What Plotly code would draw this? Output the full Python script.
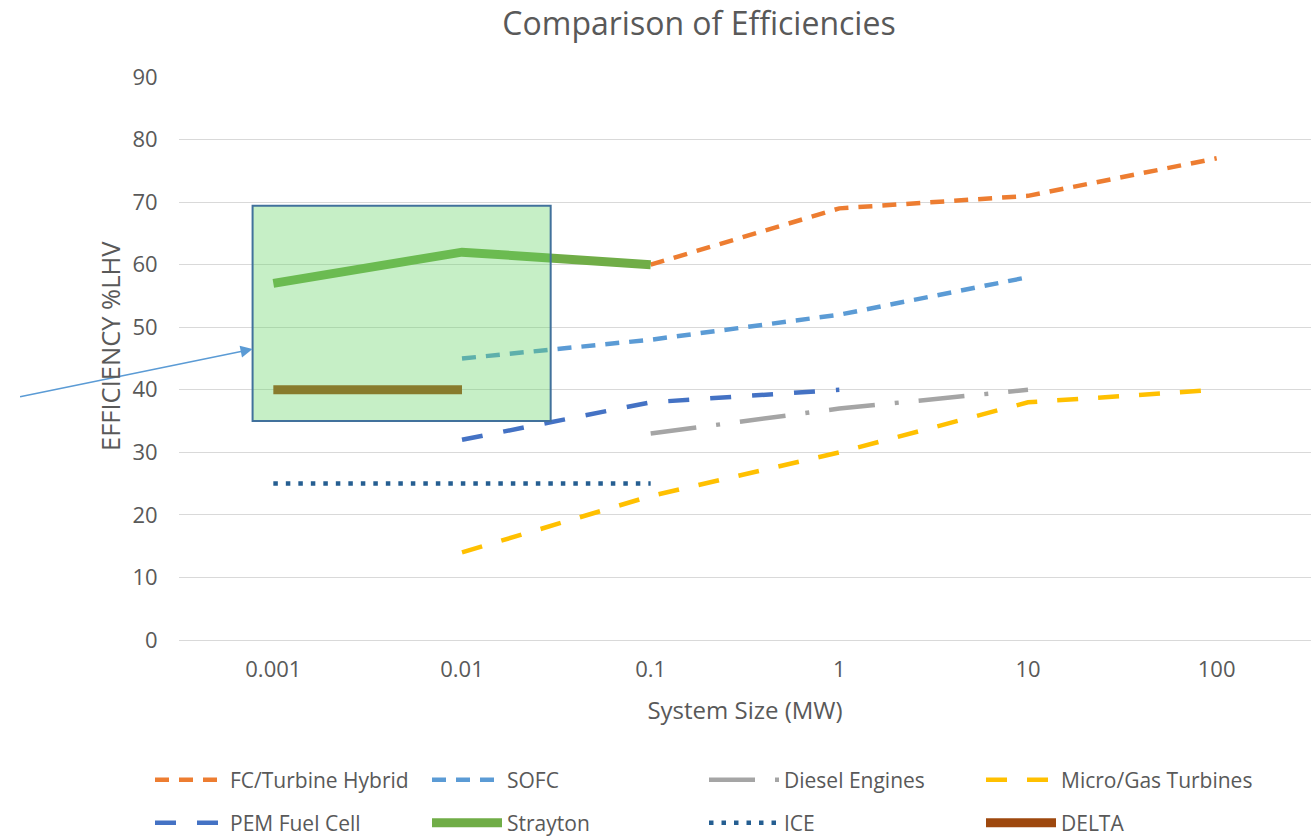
import plotly.graph_objects as go

# ---------------- data ----------------
sizes = ["0.001", "0.01", "0.1", "1", "10", "100"]

fc_x = ["0.1", "1", "10", "100"]
fc_y = [60, 69, 71, 77]

sofc_x = ["0.01", "0.1", "1", "10"]
sofc_y = [45, 48, 52, 58]

diesel_x = ["0.1", "1", "10"]
diesel_y = [33, 37, 40]

mgt_x = ["0.01", "0.1", "1", "10", "100"]
mgt_y = [14, 23, 30, 38, 40]

pem_x = ["0.01", "0.1", "1"]
pem_y = [32, 38, 40]

strayton_x = ["0.001", "0.01", "0.1"]
strayton_y = [57, 62, 60]

ice_x = ["0.001", "0.01", "0.1"]
ice_y = [25, 25, 25]

delta_x = ["0.001", "0.01"]
delta_y = [40, 40]

# highlighted region (x in category index units, y in %LHV)
box_x = [-0.11, 1.47]
box_y = [35, 69.4]

FONT = "Open Sans"
TXT = "#595959"

fig = go.Figure()

def add(name, x, y, color, width, dash, legend):
    fig.add_trace(go.Scatter(
        x=x, y=y, name=name, mode="lines",
        line=dict(color=color, width=width, dash=dash),
        legend=legend, hoverinfo="x+y+name",
    ))

add("FC/Turbine Hybrid", fc_x, fc_y, "#ED7D31", 4.5, "14px,10px", "legend")
add("SOFC", sofc_x, sofc_y, "#5B9BD5", 4.5, "14px,10px", "legend")
add("Diesel Engines", diesel_x, diesel_y, "#A5A5A5", 4.5, "46px,20px,4px,20px", "legend")
add("Micro/Gas Turbines", mgt_x, mgt_y, "#FFC000", 4.5, "21px,20px", "legend")
add("PEM Fuel Cell", pem_x, pem_y, "#4472C4", 4.5, "21px,21px", "legend2")
add("Strayton", strayton_x, strayton_y, "#70AD47", 9, "solid", "legend2")
add("ICE", ice_x, ice_y, "#255E91", 4.5, "4.5px,8px", "legend2")
add("DELTA", delta_x, delta_y, "#9E480E", 9, "solid", "legend2")

fig.add_shape(
    type="rect", xref="x", yref="y",
    x0=box_x[0], x1=box_x[1], y0=box_y[0], y1=box_y[1],
    fillcolor="rgba(101,212,101,0.37)",
    line=dict(color="#41719C", width=2), layer="above",
)

fig.add_annotation(
    x=box_x[0], y=46.5, xref="x", yref="y", text="",
    showarrow=True, ax=-234, ay=48, axref="pixel", ayref="pixel",
    arrowhead=2, arrowsize=1.6, arrowwidth=1.5, arrowcolor="#5B9BD5",
)

fig.add_annotation(
    text="EFFICIENCY %LHV", textangle=-90, xref="paper", yref="paper",
    x=(110 - 179) / 1132, y=(640 - 346) / 563, showarrow=False,
    xanchor="center", yanchor="middle",
    font=dict(family=FONT, size=25.5, color=TXT),
)

legend_common = dict(
    orientation="h", xref="container", yref="container",
    xanchor="left", yanchor="middle",
    entrywidth=192, entrywidthmode="pixels", itemwidth=70,
    font=dict(family=FONT, size=21, color=TXT),
    bgcolor="rgba(0,0,0,0)", traceorder="normal",
)

fig.update_layout(
    width=1311, height=836,
    margin=dict(l=179, r=0, t=77, b=196),
    paper_bgcolor="white", plot_bgcolor="white",
    font=dict(family=FONT, color=TXT, size=21),
    title=dict(text="Comparison of Efficiencies", x=699 / 1311, xanchor="center",
               y=1 - 24 / 836, yanchor="middle", yref="container",
               font=dict(family=FONT, size=32, color=TXT)),
    legend=dict(x=150 / 1311, y=1 - 780 / 836, **legend_common),
    legend2=dict(x=150 / 1311, y=1 - 823 / 836, **legend_common),
    xaxis=dict(
        type="category", categoryorder="array", categoryarray=sizes,
        range=[-0.5, 5.5], showgrid=False, zeroline=False, showline=False,
        ticks="outside", ticklen=10, tickcolor="rgba(0,0,0,0)",
        tickfont=dict(family=FONT, size=22, color=TXT),
        title=dict(text="System Size (MW)", standoff=19,
                   font=dict(family=FONT, size=24, color=TXT)),
    ),
    yaxis=dict(
        range=[0, 90], dtick=10, showgrid=True, gridcolor="#D9D9D9", gridwidth=1.3,
        zeroline=True, zerolinecolor="#D9D9D9", zerolinewidth=1.3, showline=False,
        ticks="outside", ticklen=16, tickcolor="rgba(0,0,0,0)",
        tickfont=dict(family=FONT, size=22, color=TXT),
    ),
    showlegend=True,
)

fig.write_html("out.html", config={"displayModeBar": False},
               post_script="document.body.style.margin='0';document.body.style.overflow='hidden';")
